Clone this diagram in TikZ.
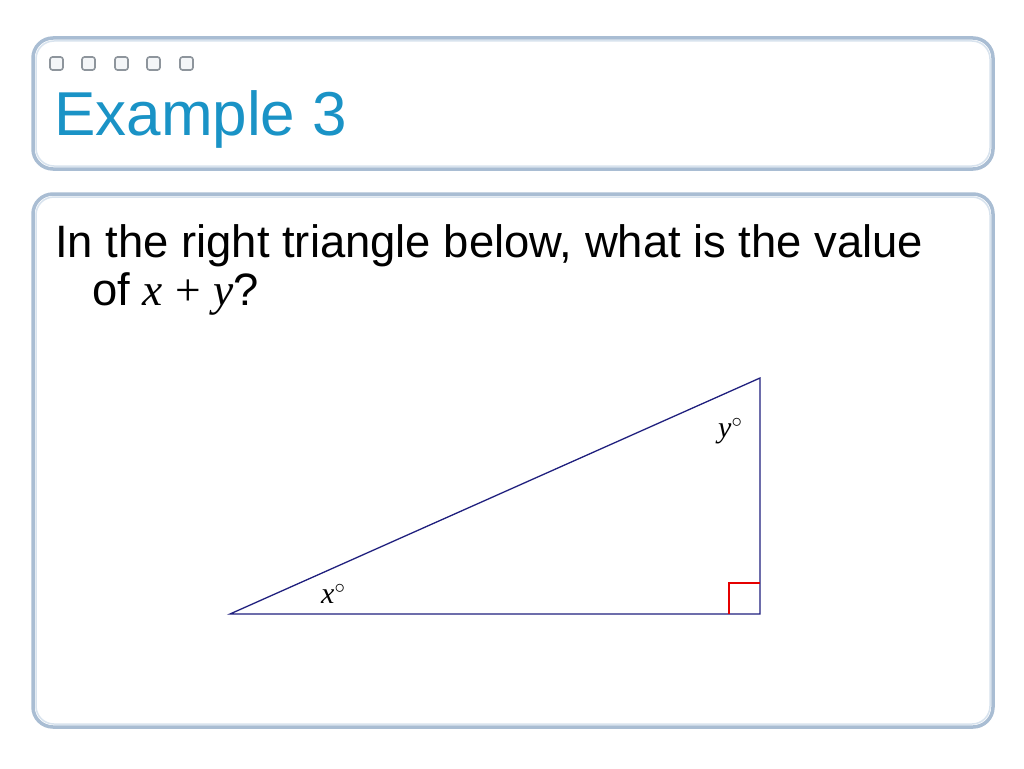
\documentclass[tikz,border=0pt]{standalone}
\usepackage{fontspec}
\setmainfont{Liberation Sans}
\newfontfamily\serifx{Liberation Serif}
\begin{document}
\begin{tikzpicture}[x=1pt,y=-1pt,
  panelouter/.style={draw=framegray,line width=3.5pt,rounded corners=20pt},
  panelinner/.style={draw=framelight,line width=1.5pt,rounded corners=18pt},
  sq/.style={draw=sqgray,line width=1.6pt,rounded corners=2.5pt,fill=sqfill},
  tri/.style={draw=navy,line width=1.3pt},
  ra/.style={draw=red!90!black,line width=1.1pt},
  lab/.style={font=\serifx\itshape\fontsize{30}{30}\selectfont,inner sep=0pt}]
\definecolor{framegray}{HTML}{A9BDD3}
\definecolor{framelight}{HTML}{D8E3EE}
\definecolor{sqgray}{HTML}{8E959C}
\definecolor{sqfill}{HTML}{F4F6F8}
\definecolor{titleblue}{HTML}{1A93C6}
\definecolor{navy}{HTML}{20207E}
\useasboundingbox (0,0) rectangle (1024,768);
\fill[white] (0,0) rectangle (1024,768);
% title panel
\draw[panelouter] (33,38) rectangle (993,169);
\draw[panelinner] (36,41) rectangle (990,166);
% body panel
\draw[panelouter] (33,194) rectangle (993,727);
\draw[panelinner] (36,197) rectangle (990,724);
% small squares
\foreach \i/\xx in {1/50,2/82,3/115,4/147,5/180}
  \draw[sq] (\xx,57) rectangle ++(13,13);
% title
\node[anchor=base west,inner sep=0pt,text=titleblue,font=\fontsize{62}{62}\selectfont] (title) at (54,135) {Example 3};
% body text
\node[anchor=base west,inner sep=0pt,font=\fontsize{45.4}{45.4}\selectfont] (line1) at (55,257) {In the right triangle below, what is the value};
\node[anchor=base west,inner sep=0pt,font=\fontsize{45.4}{45.4}\selectfont] (line2) at (92,305) {of {\serifx\itshape x} {\serifx +} {\serifx\itshape y}?};
% triangle
\coordinate (A) at (230,614);
\coordinate (B) at (760,614);
\coordinate (C) at (760,378);
\draw[tri] (A) -- (B) -- (C) -- cycle;
\draw[ra] (760,583) -- (729,583) -- (729,614);
\node[lab,anchor=base west] (ylab) at (718,437) {y$^\circ$};
\node[lab,anchor=base west] (xlab) at (321,603) {x$^\circ$};
\end{tikzpicture}
\end{document}
